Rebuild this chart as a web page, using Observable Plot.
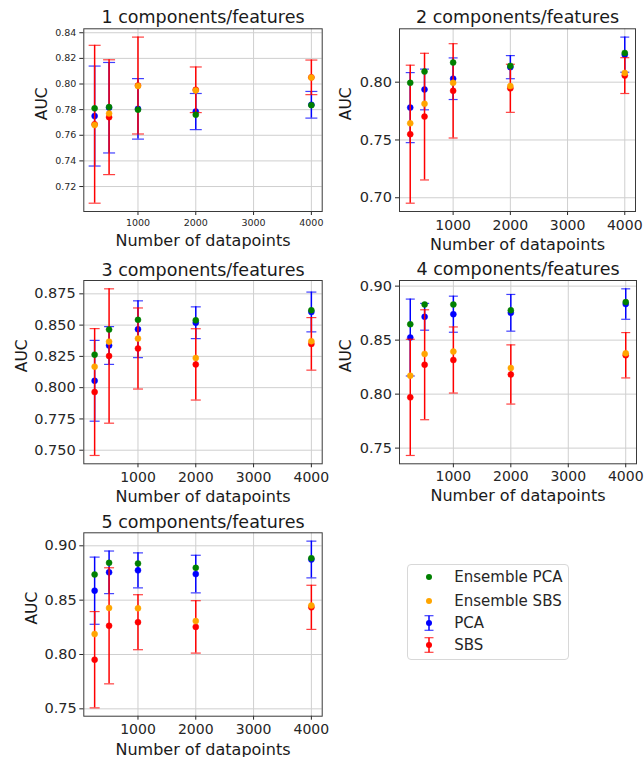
<!DOCTYPE html>
<html>
<head>
<meta charset="utf-8">
<script src="https://cdn.jsdelivr.net/npm/d3@7"></script>
<script src="https://cdn.jsdelivr.net/npm/@observablehq/plot@0.6"></script>
<style>
  body { margin: 0; background: #fff; font-family: "DejaVu Sans", sans-serif; }
  #root { position: relative; width: 644px; height: 757px; overflow: hidden; background: #fff; }
  .panel { position: absolute; }
  #legend { position: absolute; box-sizing: border-box; border: 1px solid #d8d8d8; border-radius: 4px; background: #fff; }
  .lrow { position: absolute; left: 0; height: 20px; display: flex; align-items: center; font-size: 15px; color: #262626; }
</style>
</head>
<body>
<div id="root"></div>
<script>
// ---------- data ----------
const xValues = [250, 500, 1000, 2000, 4000];
const xTicks = [1000, 2000, 3000, 4000];
const seriesNames = ["Ensemble PCA", "Ensemble SBS", "PCA", "SBS"];
const seriesColors = ["green", "orange", "blue", "red"];
const panelTitles = [
  "1 components/features", "2 components/features", "3 components/features",
  "4 components/features", "5 components/features"
];
const xLabel = "Number of datapoints";
const yLabel = "AUC";

const ensPCA = [
  [0.781, 0.782, 0.780, 0.776, 0.7835],
  [0.7994, 0.8092, 0.817, 0.8141, 0.8253],
  [0.8264, 0.8464, 0.8542, 0.8539, 0.8619],
  [0.8647, 0.883, 0.883, 0.8777, 0.8852],
  [0.8736, 0.8843, 0.8837, 0.8797, 0.8886]
];
const ensSBS = [
  [0.768, 0.777, 0.7985, 0.795, 0.805],
  [0.7644, 0.7813, 0.7994, 0.7966, 0.808],
  [0.8168, 0.8368, 0.8392, 0.8237, 0.8371],
  [0.8171, 0.8372, 0.8394, 0.8242, 0.8378],
  [0.8188, 0.8428, 0.8425, 0.8308, 0.845]
];
const pcaMean = [
  [0.775, 0.7815, 0.7806, 0.7785, 0.7838],
  [0.778, 0.7937, 0.803, 0.813, 0.8238],
  [0.8055, 0.8337, 0.8467, 0.8519, 0.8605],
  [0.8524, 0.8716, 0.874, 0.8753, 0.8834],
  [0.8587, 0.8756, 0.8774, 0.874, 0.8874]
];
const pcaErr = [
  [0.039, 0.0353, 0.0236, 0.0141, 0.0104],
  [0.0303, 0.0176, 0.018, 0.010, 0.0152],
  [0.0323, 0.0151, 0.0227, 0.0127, 0.0159],
  [0.0356, 0.0124, 0.0167, 0.017, 0.0141],
  [0.0309, 0.0196, 0.0161, 0.0173, 0.0169]
];
const sbsMean = [
  [0.7686, 0.7741, 0.7988, 0.7955, 0.8052],
  [0.755, 0.7702, 0.7925, 0.7947, 0.8057],
  [0.7965, 0.8253, 0.8313, 0.8186, 0.835],
  [0.797, 0.8272, 0.8316, 0.8182, 0.836],
  [0.7952, 0.8264, 0.8297, 0.8254, 0.8434]
];
const sbsErr = [
  [0.0616, 0.0448, 0.0378, 0.0178, 0.0135],
  [0.0597, 0.0548, 0.0408, 0.0208, 0.0155],
  [0.0507, 0.0537, 0.0324, 0.0285, 0.021],
  [0.0538, 0.0509, 0.0306, 0.0274, 0.021],
  [0.0443, 0.0534, 0.0253, 0.0241, 0.0203]
];
const yTickValues = [
  [0.72, 0.74, 0.76, 0.78, 0.80, 0.82, 0.84],
  [0.70, 0.75, 0.80],
  [0.750, 0.775, 0.800, 0.825, 0.850, 0.875],
  [0.75, 0.80, 0.85, 0.90],
  [0.75, 0.80, 0.85, 0.90]
];
const yTickFormats = [".2f", ".2f", ".3f", ".2f", ".2f"];

// ---------- layout (positions & styles) ----------
const layout = [
  {left: 0,   top: 0,   w: 330, h: 250, mt: 28.3, mb: 39,   ml: 83.3, mr: 8.3, tickFont: 9.5, yTickFont: 9.5, xPad: 3.5, yPad: 3.5, titleDy: -5.6, xlDy: 34,   ylDx: -41.3, cap: 6},
  {left: 330, top: 0,   w: 314, h: 250, mt: 28.3, mb: 39,   ml: 69,   mr: 9,   tickFont: 14,  yTickFont: 14.5, xPad: 4.3, yPad: 3.5, titleDy: -5.6, xlDy: 38,   ylDx: -53,   cap: 4.5},
  {left: 0,   top: 250, w: 330, h: 255, mt: 30,   mb: 41.7, ml: 83.3, mr: 8.3, tickFont: 14,  yTickFont: 14.5, xPad: 4,   yPad: 4,   titleDy: -4.3, xlDy: 37.7, ylDx: -61.6, cap: 5},
  {left: 330, top: 250, w: 314, h: 255, mt: 30,   mb: 41.7, ml: 69,   mr: 8,   tickFont: 14,  yTickFont: 14.5, xPad: 3.5, yPad: 3.5, titleDy: -6,   xlDy: 37.2, ylDx: -53,   cap: 4.5},
  {left: 0,   top: 505, w: 330, h: 252, mt: 27.3, mb: 41.3, ml: 83.3, mr: 8.3, tickFont: 14,  yTickFont: 14.5, xPad: 4,   yPad: 3,   titleDy: -5.3, xlDy: 38.3, ylDx: -51.6, cap: 5}
];

const capSymbol = {
  draw(context, size) {
    const w = Math.sqrt(size / Math.PI);
    context.moveTo(-w, 0);
    context.lineTo(w, 0);
  }
};

const root = document.getElementById("root");
const xMin = d3.min(xValues), xMax = d3.max(xValues);
const xPadD = (xMax - xMin) * 0.05;

for (let i = 0; i < 5; i++) {
  const L = layout[i];
  const pca = xValues.map((x, j) => ({x, mean: pcaMean[i][j], err: pcaErr[i][j]}));
  const sbs = xValues.map((x, j) => ({x, mean: sbsMean[i][j], err: sbsErr[i][j]}));
  const ePCA = xValues.map((x, j) => ({x, y: ensPCA[i][j]}));
  const eSBS = xValues.map((x, j) => ({x, y: ensSBS[i][j]}));
  const allY = [
    ...ensPCA[i], ...ensSBS[i],
    ...pca.map(d => d.mean - d.err), ...pca.map(d => d.mean + d.err),
    ...sbs.map(d => d.mean - d.err), ...sbs.map(d => d.mean + d.err)
  ];
  const [y0, y1] = d3.extent(allY);
  const yPadD = (y1 - y0) * 0.05;

  const errMarks = (rows, color) => [
    Plot.ruleX(rows, {x: "x", y1: d => d.mean - d.err, y2: d => d.mean + d.err, stroke: color, strokeWidth: 1.5}),
    Plot.dot(rows, {x: "x", y: d => d.mean - d.err, r: L.cap, symbol: capSymbol, stroke: color, fill: "none", strokeWidth: 1.2, strokeOpacity: 0.75}),
    Plot.dot(rows, {x: "x", y: d => d.mean + d.err, r: L.cap, symbol: capSymbol, stroke: color, fill: "none", strokeWidth: 1.2, strokeOpacity: 0.75}),
    Plot.dot(rows, {x: "x", y: "mean", r: 3, fill: color, stroke: color, strokeWidth: 0.5})
  ];

  const chart = Plot.plot({
    width: L.w,
    height: L.h,
    marginTop: L.mt,
    marginBottom: L.mb,
    marginLeft: L.ml,
    marginRight: L.mr,
    style: {fontFamily: "DejaVu Sans, sans-serif", background: "transparent", color: "#262626", overflow: "visible"},
    x: {domain: [xMin - xPadD, xMax + xPadD]},
    y: {domain: [y0 - yPadD, y1 + yPadD]},
    marks: [
      Plot.gridX(xTicks, {stroke: "#cfcfcf", strokeOpacity: 1, strokeWidth: 1}),
      Plot.gridY(yTickValues[i], {stroke: "#cfcfcf", strokeOpacity: 1, strokeWidth: 1}),
      Plot.axisX({ticks: xTicks, tickFormat: d => String(d), tickSize: 4, tickPadding: L.xPad, fontSize: L.tickFont, label: null}),
      Plot.axisY({ticks: yTickValues[i], tickFormat: d3.format(yTickFormats[i]), tickSize: 4, tickPadding: L.yPad, fontSize: L.yTickFont, label: null}),
      ...errMarks(pca, seriesColors[2]),
      ...errMarks(sbs, seriesColors[3]),
      Plot.dot(eSBS, {x: "x", y: "y", r: 3, fill: seriesColors[1], stroke: seriesColors[1], strokeWidth: 0.5}),
      Plot.dot(ePCA, {x: "x", y: "y", r: 3, fill: seriesColors[0], stroke: seriesColors[0], strokeWidth: 0.5}),
      Plot.frame({stroke: "#3a3a3a", strokeWidth: 1}),
      Plot.text([panelTitles[i]], {text: d => d, frameAnchor: "top", lineAnchor: "bottom", dy: L.titleDy, fontSize: 17.5, fill: "#1a1a1a"}),
      Plot.text([xLabel], {text: d => d, frameAnchor: "bottom", lineAnchor: "bottom", dy: L.xlDy, fontSize: 16, fill: "#1a1a1a"}),
      Plot.text([yLabel], {text: d => d, frameAnchor: "left", dx: L.ylDx, rotate: -90, fontSize: 15.5, fill: "#1a1a1a"})
    ]
  });
  const wrap = document.createElement("div");
  wrap.className = "panel";
  wrap.style.left = L.left + "px";
  wrap.style.top = L.top + "px";
  wrap.appendChild(chart);
  root.appendChild(wrap);
}

// ---------- legend ----------
const legend = document.createElement("div");
legend.id = "legend";
legend.style.left = "406.7px";
legend.style.top = "564.3px";
legend.style.width = "162.3px";
legend.style.height = "95.7px";
const rowCenters = [13, 36.4, 58.4, 81];
seriesNames.forEach((name, k) => {
  const row = document.createElement("div");
  row.className = "lrow";
  row.style.top = (rowCenters[k] - 10 - 1) + "px";
  const c = seriesColors[k];
  const hasErr = k >= 2;
  const svgNS = "http://www.w3.org/2000/svg";
  const svg = document.createElementNS(svgNS, "svg");
  svg.setAttribute("width", "46");
  svg.setAttribute("height", "20");
  svg.style.display = "block";
  let inner = "";
  if (hasErr) {
    inner += `<line x1="21" x2="21" y1="2.7" y2="17.3" stroke="${c}" stroke-width="1.5"/>`;
    inner += `<line x1="16.5" x2="25.5" y1="2.7" y2="2.7" stroke="${c}" stroke-width="1.2" stroke-opacity="0.75"/>`;
    inner += `<line x1="16.5" x2="25.5" y1="17.3" y2="17.3" stroke="${c}" stroke-width="1.2" stroke-opacity="0.75"/>`;
  }
  inner += `<circle cx="21" cy="10" r="3" fill="${c}"/>`;
  svg.innerHTML = inner;
  row.appendChild(svg);
  const t = document.createElement("span");
  t.textContent = name;
  t.style.marginLeft = "0.6px";
  row.appendChild(t);
  legend.appendChild(row);
});
root.appendChild(legend);
</script>
</body>
</html>
